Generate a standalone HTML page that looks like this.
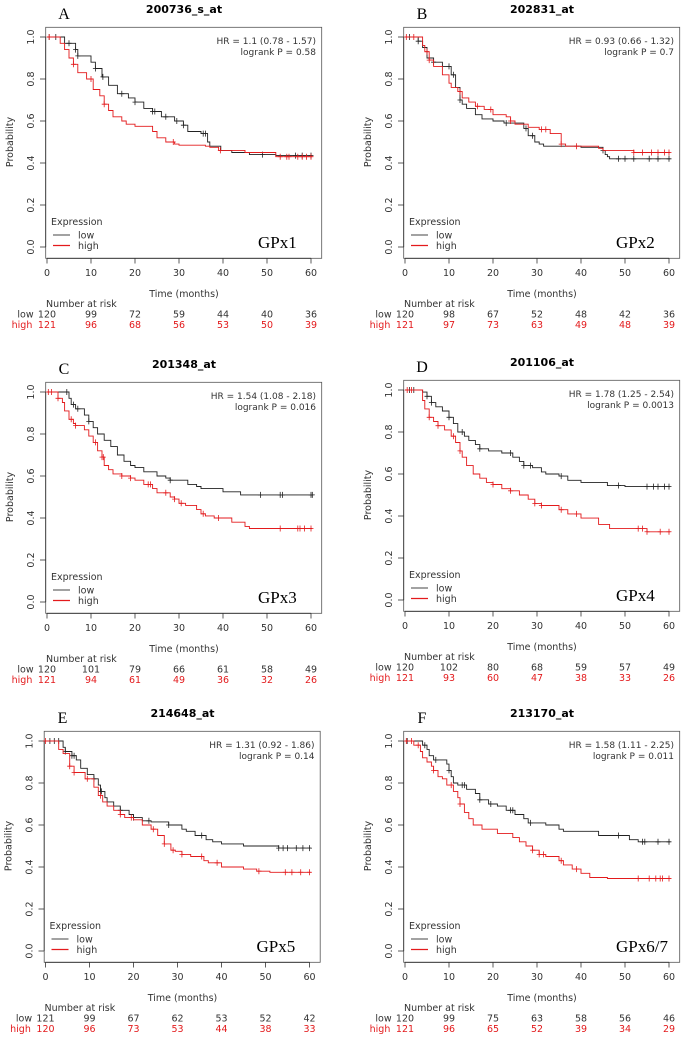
<!DOCTYPE html>
<html><head><meta charset="utf-8">
<style>
html,body{margin:0;padding:0;background:#fff;}
svg{display:block;font-family:"DejaVu Sans","Liberation Sans",sans-serif;}
</style></head>
<body>
<svg id="chart" width="685" height="1040" viewBox="0 0 685 1040" xmlns="http://www.w3.org/2000/svg"></svg>
<script>
// ---- data ----
const panelLetters = ["A","B","C","D","E","F"];
const probeIds = ["200736_s_at","202831_at","201348_at","201106_at","214648_at","213170_at"];
const geneLabels = ["GPx1","GPx2","GPx3","GPx4","GPx5","GPx6/7"];
const hrTexts = ["HR = 1.1 (0.78 - 1.57)","HR = 0.93 (0.66 - 1.32)","HR = 1.54 (1.08 - 2.18)","HR = 1.78 (1.25 - 2.54)","HR = 1.31 (0.92 - 1.86)","HR = 1.58 (1.11 - 2.25)"];
const pTexts = ["logrank P = 0.58","logrank P = 0.7","logrank P = 0.016","logrank P = 0.0013","logrank P = 0.14","logrank P = 0.011"];
const xTicks = [0,10,20,30,40,50,60];
const yTicks = [0,0.2,0.4,0.6,0.8,1.0];
const yTickLabels = ["0.0","0.2","0.4","0.6","0.8","1.0"];
const riskLow = [[120,99,72,59,44,40,36],[120,98,67,52,48,42,36],[120,101,79,66,61,58,49],[120,102,80,68,59,57,49],[121,99,67,62,53,52,42],[120,99,75,63,58,56,46]];
const riskHigh = [[121,96,68,56,53,50,39],[121,97,73,63,49,48,39],[121,94,61,49,36,32,26],[121,93,60,47,38,33,26],[120,96,73,53,44,38,33],[121,96,65,52,39,34,29]];

const aLow=[[4,0.97],[6.5,0.94],[7,0.91],[10,0.88],[11,0.85],[12.5,0.81],[14,0.77],[16,0.73],[18.5,0.71],[20,0.69],[22,0.66],[24,0.645],[26,0.62],[29,0.6],[31,0.58],[32,0.55],[35,0.54],[36.5,0.5],[37,0.48],[39.5,0.46],[42,0.45],[46,0.44],[52,0.435]];
const aHigh=[[3,0.97],[4,0.94],[5,0.9],[6,0.87],[7,0.83],[9,0.8],[10.5,0.75],[12,0.72],[13,0.68],[14,0.65],[15,0.62],[17,0.6],[18,0.585],[20,0.575],[24,0.55],[25,0.52],[27,0.5],[29,0.49],[30,0.485],[36,0.48],[37,0.475],[39,0.46],[45,0.45],[52,0.43]];
const bLow=[[3,0.98],[4,0.95],[5,0.9],[6.5,0.88],[8.5,0.86],[10.5,0.82],[11.5,0.76],[12.5,0.7],[13,0.68],[14,0.66],[16,0.63],[17.5,0.61],[20,0.6],[22.5,0.59],[27,0.565],[28,0.53],[29.5,0.5],[30.5,0.49],[31.5,0.48],[40,0.475],[45,0.46],[45.5,0.44],[46,0.43],[46.5,0.42]];
const bHigh=[[4,0.96],[4.5,0.93],[5.5,0.89],[6.5,0.86],[8.5,0.82],[10,0.78],[10.5,0.76],[12,0.74],[13,0.71],[14.5,0.69],[16,0.67],[18,0.655],[20,0.63],[23,0.62],[24,0.6],[25,0.585],[28,0.57],[30.5,0.56],[33,0.54],[35.5,0.49],[36.5,0.48],[44,0.47],[45,0.46],[52,0.45]];
const cLow=[[5,0.97],[5.5,0.94],[6.5,0.92],[8.5,0.89],[9.5,0.86],[10.5,0.83],[11.5,0.8],[13,0.77],[14.5,0.74],[16,0.7],[17.5,0.67],[19,0.65],[20,0.64],[22,0.62],[25,0.6],[27,0.59],[28,0.58],[32,0.56],[34,0.55],[35,0.54],[40,0.525],[44,0.51]];
const cHigh=[[2.5,0.97],[3.5,0.95],[4,0.91],[5,0.87],[6,0.85],[6.5,0.84],[8.5,0.82],[9.5,0.79],[10.5,0.76],[11.5,0.72],[12.5,0.69],[13,0.65],[14,0.63],[15,0.61],[17,0.6],[19,0.59],[20,0.58],[22,0.56],[24,0.54],[25,0.52],[28,0.5],[29,0.49],[30,0.47],[31.5,0.46],[34,0.44],[35,0.42],[36,0.41],[38,0.4],[42,0.38],[45,0.36],[46,0.35]];
const dLow=[[4,0.99],[5,0.97],[6,0.94],[7,0.92],[8.5,0.9],[10,0.87],[11,0.84],[12,0.8],[13.5,0.78],[14.5,0.76],[16,0.74],[17,0.72],[19,0.71],[22,0.7],[24.5,0.68],[26,0.66],[27,0.64],[29,0.63],[31,0.61],[32,0.6],[35,0.59],[37,0.57],[40,0.56],[46,0.545],[50,0.54]];
const dHigh=[[4,0.95],[4.5,0.91],[5.5,0.87],[6.5,0.85],[7.5,0.83],[9,0.81],[10.5,0.78],[11.5,0.75],[12.5,0.71],[13,0.68],[14,0.64],[15.5,0.6],[17,0.58],[18.5,0.56],[20,0.55],[22,0.53],[24,0.52],[26,0.5],[28,0.48],[29.5,0.46],[31,0.45],[35,0.43],[37,0.41],[40,0.39],[44,0.36],[46.5,0.34],[55,0.325]];
const eLow=[[4,0.97],[4.5,0.95],[6,0.93],[7,0.91],[8,0.87],[9.5,0.84],[11,0.82],[12,0.79],[12.5,0.76],[13.5,0.73],[14,0.71],[15.5,0.69],[17,0.67],[19,0.65],[20,0.635],[22,0.62],[24,0.615],[28,0.6],[31,0.58],[32,0.57],[34,0.55],[36.5,0.53],[38,0.52],[40,0.51],[45,0.5],[53,0.49]];
const eHigh=[[3,0.96],[4,0.94],[5.5,0.88],[6.5,0.85],[9,0.82],[11,0.78],[12,0.74],[13,0.71],[14,0.69],[15.5,0.67],[17,0.65],[18,0.635],[20,0.625],[22,0.6],[24,0.58],[25.5,0.55],[27,0.51],[28.5,0.48],[29.5,0.475],[31,0.46],[33,0.45],[36,0.43],[37,0.42],[40,0.4],[45,0.39],[48,0.38],[51,0.375]];
const fLow=[[4,0.98],[5,0.96],[5.5,0.93],[6.5,0.91],[9.5,0.89],[10,0.86],[10.5,0.83],[11,0.8],[12,0.79],[14,0.77],[16,0.75],[17,0.72],[19,0.7],[21,0.69],[23,0.67],[25,0.65],[27,0.63],[28,0.61],[32,0.6],[35,0.58],[36,0.57],[44,0.55],[51,0.53],[53,0.52]];
const fHigh=[[2,0.98],[3.5,0.95],[4,0.92],[5,0.9],[6,0.88],[6.5,0.86],[7.5,0.83],[8.5,0.82],[9.5,0.79],[11,0.76],[12,0.73],[12.5,0.7],[13.5,0.66],[14.5,0.63],[15.5,0.6],[17.5,0.58],[21,0.56],[24.5,0.54],[26,0.52],[27.5,0.5],[29,0.48],[30.5,0.46],[32,0.45],[35,0.43],[36,0.41],[38,0.39],[40,0.37],[42,0.35],[46,0.345]];

const aLowCens=[0.5,2,5,6.5,7,11,12.7,17,20,24,24.5,27,29.5,31,35.5,36,49,56.5,58,60];
const aHighCens=[0.5,6,10,13,28.7,39.4,53,54.5,55,57,58,59,60];
const bLowCens=[1,3,6.5,10,11,12.5,23,27.5,29,45,48.5,50,52,55.5,57.5,60];
const bHighCens=[0.3,2,5,5.5,12.5,16.5,19.5,24,31,32,35.5,39,52,54,56,57.5,59,60];
const cLowCens=[4.5,6,7,9.5,28,48.5,53,53.5,60,60.3];
const cHighCens=[0.3,1,2.5,5.5,6.5,11,12.5,12.8,17,19,23,23.5,27,29,30.5,35.5,39,53,57,57.5,58.5,60];
const dLowCens=[1,2,5,6,10,13,17,24,27,28.5,35.5,48.5,55,56.5,57.5,59,60];
const dHighCens=[0.5,1.5,5.5,7.5,11,12.5,20,24,29.5,31,35.5,39,53,54,55,58,60];
const eLowCens=[1,2,3,4.5,6,6.5,11,12.5,12.7,17,20,23.5,28,35.5,53,54,55,57,58.5,60];
const eHighCens=[0,5.5,6.5,9.5,12.5,17,19.5,24.5,27,29,31,35.5,39,48.5,54.5,56,58,60];
const fLowCens=[0.5,4.5,7,10,13,13.5,17,19.5,24,24.5,28.5,48.5,54,54.5,57.5,60];
const fHighCens=[0.3,1.5,3,6.5,10.5,12.5,29,30.5,31.5,35.5,39,53,55.5,57,58,58.5,60];

const lowCurves=[aLow,bLow,cLow,dLow,eLow,fLow];
const highCurves=[aHigh,bHigh,cHigh,dHigh,eHigh,fHigh];
const lowCens=[aLowCens,bLowCens,cLowCens,dLowCens,eLowCens,fLowCens];
const highCens=[aHighCens,bHighCens,cHighCens,dHighCens,eHighCens,fHighCens];

// ---- layout ----
const NS="http://www.w3.org/2000/svg";
const svg=document.getElementById('chart');
const offX=[0,358,0,358,-1.5,358];
const offY=[0,0,355,353,704,704];
const RED="#e31a1c", BLK="#222";

function mk(tag,attrs,parent,txt){
  const e=document.createElementNS(NS,tag);
  for(const k in attrs) e.setAttribute(k,attrs[k]);
  if(txt!==undefined) e.textContent=txt;
  (parent||svg).appendChild(e);
  return e;
}
function stepAt(curve,t){let s=1;for(const p of curve){if(p[0]<=t)s=p[1];}return s;}

for(let i=0;i<6;i++){
  const ox=offX[i], oy=offY[i];
  const xs=t=>ox+47+4.4*t;
  const ys=s=>oy+37+210*(1-s);
  const g=mk('g',{});
  
  

  const lt=mk('text',{x:ox+64,y:oy+19,'font-family':'Liberation Serif, serif','font-size':16,'text-anchor':'middle',fill:'#000'},g,panelLetters[i]);
   
  const tt=mk('text',{x:ox+184,y:oy+13,'font-size':11,'font-weight':'bold','text-anchor':'middle',fill:'#000'},g,probeIds[i]);
   

  const box=mk('rect',{x:ox+45.7,y:oy+27.3,width:276,height:231,fill:'none',stroke:'#555','stroke-width':0.8},g);
   

  // y axis
  mk('line',{x1:ox+45.7,x2:ox+45.7,y1:ys(0),y2:ys(1),stroke:'#333','stroke-width':0.8},g);
  yTicks.forEach((v,k)=>{
    mk('line',{x1:ox+40,x2:ox+45.7,y1:ys(v),y2:ys(v),stroke:'#333','stroke-width':0.8},g);
    const yl=mk('text',{x:ox+34,y:ys(v),'font-size':9.5,'text-anchor':'middle',fill:'#333',transform:`rotate(-90 ${ox+34} ${ys(v)})`},g,yTickLabels[k]);
     
  });
  const yt=mk('text',{x:ox+13,y:oy+142,'font-size':9.5,'text-anchor':'middle',fill:'#333',transform:`rotate(-90 ${ox+13} ${oy+142})`},g,'Probability');
   

  // x axis
  mk('line',{x1:xs(0),x2:xs(60),y1:oy+258.3,y2:oy+258.3,stroke:'#333','stroke-width':0.8},g);
  xTicks.forEach(v=>{
    mk('line',{x1:xs(v),x2:xs(v),y1:oy+258.3,y2:oy+263.5,stroke:'#333','stroke-width':0.8},g);
    const xl=mk('text',{x:xs(v),y:oy+276,'font-size':9.5,'text-anchor':'middle',fill:'#333'},g,String(v));
     
  });
  const xt=mk('text',{x:ox+184,y:oy+297,'font-size':9.5,'text-anchor':'middle',fill:'#333'},g,'Time (months)');
   

  // number at risk
  const nt=mk('text',{x:ox+46,y:oy+307,'font-size':9.5,fill:'#333'},g,'Number at risk');
   
  const l1=mk('text',{x:ox+25.5,y:oy+317.5,'font-size':9.5,'text-anchor':'middle',fill:'#333'},g,'low');
   
  const l2=mk('text',{x:ox+22,y:oy+328,'font-size':9.5,'text-anchor':'middle',fill:RED},g,'high');
   
  xTicks.forEach((v,k)=>{
    const a=mk('text',{x:xs(v),y:oy+317.5,'font-size':9.5,'text-anchor':'middle',fill:'#333'},g,String(riskLow[i][k]));
     
    const b=mk('text',{x:xs(v),y:oy+328,'font-size':9.5,'text-anchor':'middle',fill:RED},g,String(riskHigh[i][k]));
     
  });

  // HR
  const h1=mk('text',{x:ox+316,y:oy+44,'font-size':9,'text-anchor':'end',fill:'#333'},g,hrTexts[i]);
   
  const h2=mk('text',{x:ox+316,y:oy+55,'font-size':9,'text-anchor':'end',fill:'#333'},g,pTexts[i]);
   

  // legend
  const lg=mk('g',{},g);
   
  mk('text',{x:ox+51,y:oy+225,'font-size':9.5,fill:'#333'},lg,'Expression');
  mk('line',{x1:ox+53,x2:ox+70,y1:oy+235,y2:oy+235,stroke:'#444','stroke-width':1},lg);
  mk('line',{x1:ox+53,x2:ox+70,y1:oy+245.5,y2:oy+245.5,stroke:RED,'stroke-width':1.2},lg);
  mk('text',{x:ox+78,y:oy+238.5,'font-size':9.5,fill:'#333'},lg,'low');
  mk('text',{x:ox+78,y:oy+249,'font-size':9.5,fill:'#333'},lg,'high');
  const gl=mk('text',{x:ox+258,y:oy+248,'font-family':'Liberation Serif, serif','font-size':17,fill:'#000'},g,geneLabels[i]);
   

  // curves
  [[lowCurves[i],lowCens[i],BLK,'low'],[highCurves[i],highCens[i],RED,'high']].forEach(([cv,cens,col,nm])=>{
    let d=`M${xs(0)},${ys(1)}`;
    cv.forEach(p=>{d+=` H${xs(p[0]).toFixed(1)} V${ys(p[1]).toFixed(1)}`;});
    d+=` H${xs(60.3).toFixed(1)}`;
    const path=mk('path',{d:d,fill:'none',stroke:col,'stroke-width':0.9},g);
    
    
    cens.forEach(t=>{
      const yy=ys(stepAt(cv,t)), xx=xs(t);
      const m=mk('path',{d:`M${xx-2.5},${yy} H${xx+2.5} M${xx},${yy-3} V${yy+3}`,stroke:col,'stroke-width':0.8,fill:'none'},g);
      
      
    });
  });
}
</script>
</body></html>
